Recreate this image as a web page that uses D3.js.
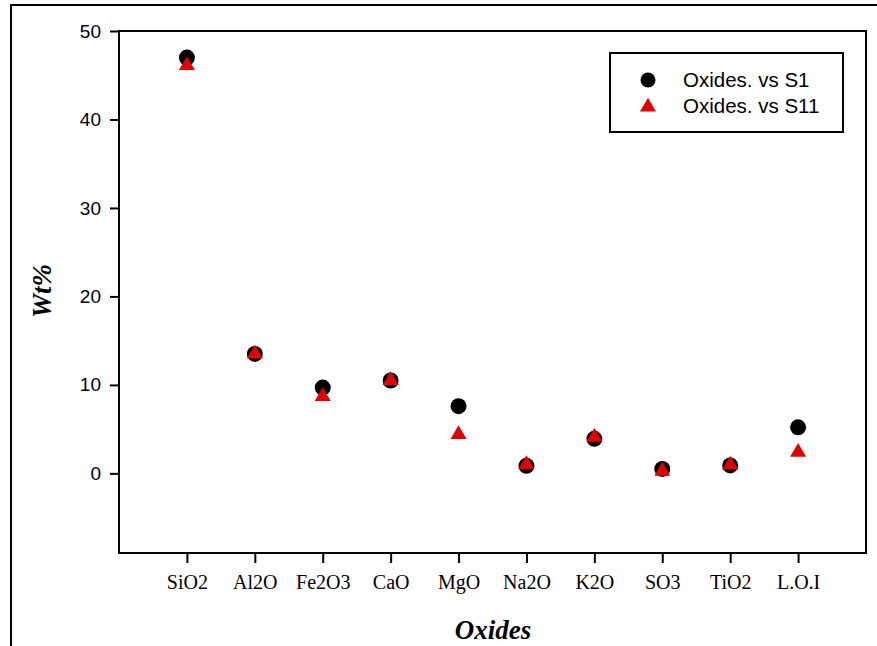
<!DOCTYPE html>
<html>
<head>
<meta charset="utf-8">
<script src="https://cdn.jsdelivr.net/npm/d3@7"></script>
<style>
  body { margin: 0; background: #fff; }
  svg { display: block; }
</style>
</head>
<body>
<svg width="877" height="646"></svg>
<script>
// data
var oxides = ["SiO2", "Al2O", "Fe2O3", "CaO", "MgO", "Na2O", "K2O", "SO3", "TiO2", "L.O.I"];
var s1 = [47.0, 13.5, 9.7, 10.5, 7.6, 0.85, 3.9, 0.5, 0.9, 5.2];
var s11 = [46.1, 13.5, 8.7, 10.5, 4.4, 1.0, 4.1, 0.25, 0.95, 2.4];
var yTicks = [0, 10, 20, 30, 40, 50];
var seriesNames = ["Oxides. vs S1", "Oxides. vs S11"];

var svg = d3.select("svg");
var plotL = 119, plotR = 866, plotT = 31, plotB = 553;
var serif = "'Liberation Serif', 'Times New Roman', serif";
var sans = "'Liberation Sans', Arial, sans-serif";

// outer frame (cropped at right and bottom)
svg.append("rect")
  .attr("x", 11).attr("y", 5)
  .attr("width", 900).attr("height", 700)
  .attr("fill", "none").attr("stroke", "#000").attr("stroke-width", 2);

var x = d3.scalePoint().domain(oxides).range([plotL, plotR]).padding(1);
var y = d3.scaleLinear().domain([-9, 50]).range([plotB, plotT]);

// plot box
svg.append("rect")
  .attr("x", plotL).attr("y", plotT)
  .attr("width", plotR - plotL).attr("height", plotB - plotT)
  .attr("fill", "none").attr("stroke", "#000").attr("stroke-width", 2);

var xAxis = svg.append("g")
  .attr("transform", "translate(0," + plotB + ")")
  .call(d3.axisBottom(x).tickSize(10).tickPadding(12).tickSizeOuter(0));
xAxis.select(".domain").remove();
xAxis.selectAll("line").attr("stroke-width", 2);
xAxis.selectAll("text")
  .attr("font-family", serif)
  .attr("font-size", 20).attr("fill", "#000");

var yAxis = svg.append("g")
  .attr("transform", "translate(" + plotL + ",0)")
  .call(d3.axisLeft(y).tickValues(yTicks).tickSize(9).tickPadding(9).tickSizeOuter(0));
yAxis.select(".domain").remove();
yAxis.selectAll("line").attr("stroke-width", 2);
yAxis.selectAll("text")
  .attr("font-family", sans)
  .attr("font-size", 19).attr("fill", "#000");

// axis titles
svg.append("text")
  .attr("x", 493).attr("y", 639)
  .attr("text-anchor", "middle")
  .attr("font-family", serif)
  .attr("font-weight", "bold").attr("font-style", "italic")
  .attr("font-size", 27)
  .text("Oxides");

svg.append("text")
  .attr("transform", "translate(51,291) rotate(-90)")
  .attr("text-anchor", "middle")
  .attr("font-family", serif)
  .attr("font-weight", "bold").attr("font-style", "italic")
  .attr("font-size", 27)
  .text("Wt%");

var tri = d3.symbol().type(d3.symbolTriangle).size(110);

// S1 circles
svg.append("g").selectAll("circle")
  .data(s1)
  .enter().append("circle")
  .attr("cx", function(d, i) { return x(oxides[i]); })
  .attr("cy", function(d) { return y(d); })
  .attr("r", 8)
  .attr("fill", "#000");

// S11 triangles
svg.append("g").selectAll("path")
  .data(s11)
  .enter().append("path")
  .attr("d", tri)
  .attr("transform", function(d, i) { return "translate(" + x(oxides[i]) + "," + y(d) + ")"; })
  .attr("fill", "#e00000");

// legend
var lg = svg.append("g");
lg.append("rect")
  .attr("x", 610).attr("y", 53)
  .attr("width", 233).attr("height", 79)
  .attr("fill", "#fff").attr("stroke", "#000").attr("stroke-width", 2);
lg.append("circle").attr("cx", 648).attr("cy", 80).attr("r", 7.5).attr("fill", "#000");
lg.append("path").attr("d", tri).attr("transform", "translate(648,107)").attr("fill", "#e00000");
lg.selectAll("text.lbl")
  .data(seriesNames)
  .enter().append("text")
  .attr("class", "lbl")
  .attr("x", 683)
  .attr("y", function(d, i) { return 87 + i * 26; })
  .attr("font-family", sans)
  .attr("font-size", 20.5)
  .text(function(d) { return d; });
</script>
</body>
</html>
